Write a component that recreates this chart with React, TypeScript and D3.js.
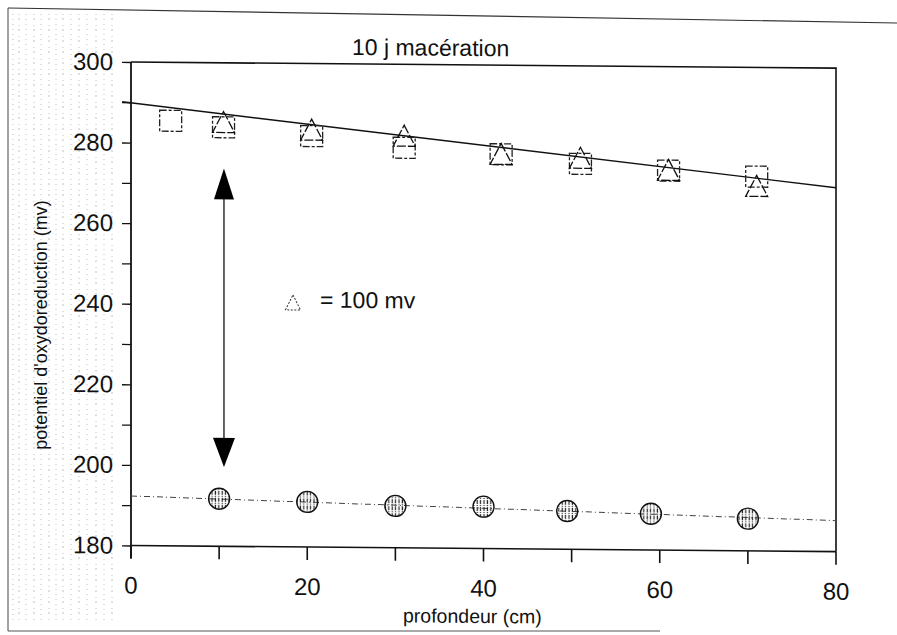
import { useEffect, useRef } from "react";
import * as d3 from "d3";

// depth (cm) / redox potential (mV)
const triangleDepth = [10.5, 20.5, 31, 42, 51, 61, 71];
const triangleEh = [285.3, 283.6, 282.3, 278.0, 277.2, 274.4, 270.6];

const squareDepth = [4.5, 10.5, 20.5, 31, 42, 51, 61, 71];
const squareEh = [285.5, 284.0, 282.0, 279.3, 277.9, 275.7, 274.2, 272.9];

const circleDepth = [10, 20, 30, 40, 49.5, 59, 70];
const circleEh = [191.8, 191.2, 190.4, 190.4, 189.5, 189.0, 188.0];

// fitted lines (end points; the upper one starts just left of the axis)
const upperFitDepth = [-1, 80];
const upperFitEh = [290.1, 270.3];
const lowerFitDepth = [0, 80];
const lowerFitEh = [192.3, 187.7];

// double arrow showing the gap
const arrowDepth = 10.55;
const arrowEh = [273.8, 199.7];

const xTicks = [0, 10, 20, 30, 40, 50, 60, 70, 80];
const xLabels = [0, 20, 40, 60, 80];
const yTicks = [180, 190, 200, 210, 220, 230, 240, 250, 260, 270, 280, 290, 300];
const yLabels = [180, 200, 220, 240, 260, 280, 300];

// scanner streaks on the left margin
const streakX = [13, 19, 26, 34, 41, 49, 56, 63, 71, 79, 87, 96, 104, 112];

const FONT = "'Liberation Sans', Arial, Helvetica, sans-serif";

export default function App() {
  const ref = useRef<SVGSVGElement | null>(null);

  useEffect(() => {
    if (!ref.current) return;
    const svg = d3.select(ref.current);
    svg.selectAll("*").remove();

    const x = d3.scaleLinear().domain([0, 80]).range([131, 836]);
    const y = d3.scaleLinear().domain([180, 300]).range([545.5, 62]);

    const pat = svg
      .append("defs")
      .append("pattern")
      .attr("id", "hatch")
      .attr("width", 3.4)
      .attr("height", 7)
      .attr("patternUnits", "userSpaceOnUse");
    pat
      .append("line")
      .attr("x1", 1.2)
      .attr("x2", 1.2)
      .attr("y1", 0)
      .attr("y2", 7)
      .attr("stroke", "#222")
      .attr("stroke-width", 1.2)
      .attr("stroke-dasharray", "4 1 1 1");

    // page border of the scan
    svg.append("line").attr("x1", 8).attr("y1", 8).attr("x2", 897).attr("y2", 23).attr("stroke", "#333").attr("stroke-width", 1.2);
    svg.append("line").attr("x1", 8).attr("y1", 8).attr("x2", 8).attr("y2", 631).attr("stroke", "#444").attr("stroke-width", 1);
    svg.append("line").attr("x1", 8).attr("y1", 631).attr("x2", 660).attr("y2", 631).attr("stroke", "#555").attr("stroke-width", 1);

    svg
      .append("g")
      .selectAll("line")
      .data(streakX)
      .join("line")
      .attr("x1", (d) => d)
      .attr("x2", (d) => d)
      .attr("y1", 14)
      .attr("y2", 620)
      .attr("stroke", "#777")
      .attr("stroke-width", 1)
      .attr("stroke-dasharray", (d, i) => (i % 2 ? "1 3 2 5" : "1 4"))
      .attr("opacity", 0.45);

    // the scan is slightly skewed
    const g = svg.append("g").attr("transform", "translate(131,0) skewY(0.5) translate(-131,0)");

    // frame: top and right edges
    g.append("path")
      .attr("d", `M${x(0)},${y(300)}H${x(80)}V${y(180)}`)
      .attr("fill", "none")
      .attr("stroke", "#111")
      .attr("stroke-width", 1.6);

    // x axis: line, ticks hanging below, labels every 20
    g.append("line")
      .attr("x1", x(0))
      .attr("x2", x(80))
      .attr("y1", y(180))
      .attr("y2", y(180))
      .attr("stroke", "#111")
      .attr("stroke-width", 1.6);
    g.append("g")
      .selectAll("line")
      .data(xTicks)
      .join("line")
      .attr("x1", (d) => x(d))
      .attr("x2", (d) => x(d))
      .attr("y1", y(180))
      .attr("y2", y(180) + 13)
      .attr("stroke", "#111")
      .attr("stroke-width", 1.6);
    g.append("g")
      .selectAll("text")
      .data(xLabels)
      .join("text")
      .attr("x", (d) => x(d))
      .attr("y", y(180) + 48)
      .attr("text-anchor", "middle")
      .attr("font-family", FONT)
      .attr("font-size", 24)
      .attr("fill", "#111")
      .text((d) => String(d));

    // y axis
    const yAxis = g
      .append("g")
      .attr("transform", `translate(${x(0)},0)`)
      .call(
        d3
          .axisLeft(y)
          .tickValues(yTicks)
          .tickSize(9)
          .tickSizeOuter(0)
          .tickPadding(9)
          .tickFormat((d) => (yLabels.includes(+d) ? String(d) : "")),
      );
    yAxis.select(".domain").remove();
    yAxis.selectAll(".tick line").attr("stroke", "#111").attr("stroke-width", 1.3);
    yAxis.selectAll("text").attr("font-size", 24).attr("font-family", FONT).attr("fill", "#111");
    g.append("line")
      .attr("x1", x(0))
      .attr("x2", x(0))
      .attr("y1", y(300))
      .attr("y2", y(180) + 13)
      .attr("stroke", "#111")
      .attr("stroke-width", 1.8);

    // fitted lines
    const fit = d3.line<[number, number]>();
    g.append("path")
      .attr("d", fit(upperFitDepth.map((d, i) => [x(d), y(upperFitEh[i])])))
      .attr("fill", "none")
      .attr("stroke", "#111")
      .attr("stroke-width", 1.4);
    g.append("path")
      .attr("d", fit(lowerFitDepth.map((d, i) => [x(d), y(lowerFitEh[i])])))
      .attr("fill", "none")
      .attr("stroke", "#444")
      .attr("stroke-width", 1)
      .attr("stroke-dasharray", "6 3 1 3");

    // squares
    g.append("g")
      .selectAll("rect")
      .data(squareDepth)
      .join("rect")
      .attr("x", (d) => x(d) - 11)
      .attr("y", (d, i) => y(squareEh[i]) - 10.5)
      .attr("width", 22)
      .attr("height", 21)
      .attr("fill", "none")
      .attr("stroke", "#222")
      .attr("stroke-width", 1.3)
      .attr("stroke-dasharray", "7 2 3 2");

    // triangles
    const tri = (cx: number, cy: number, w: number, h: number) =>
      `M${cx},${cy - h / 2}L${cx + w / 2},${cy + h / 2}L${cx - w / 2},${cy + h / 2}Z`;
    g.append("g")
      .selectAll("path")
      .data(triangleDepth)
      .join("path")
      .attr("d", (d, i) => tri(x(d), y(triangleEh[i]), 22, 21))
      .attr("fill", "none")
      .attr("stroke", "#111")
      .attr("stroke-width", 1.3)
      .attr("stroke-dasharray", "9 2");

    // circles
    g.append("g")
      .selectAll("circle")
      .data(circleDepth)
      .join("circle")
      .attr("cx", (d) => x(d))
      .attr("cy", (d, i) => y(circleEh[i]))
      .attr("r", 10.5)
      .attr("fill", "url(#hatch)")
      .attr("stroke", "#111")
      .attr("stroke-width", 1.4);

    // double arrow
    const ax = x(arrowDepth);
    const yTop = y(arrowEh[0]);
    const yBot = y(arrowEh[1]);
    g.append("line").attr("x1", ax).attr("x2", ax).attr("y1", yTop + 20).attr("y2", yBot - 20).attr("stroke", "#111").attr("stroke-width", 1.3);
    g.append("path").attr("d", `M${ax},${yTop}L${ax + 10},${yTop + 31}L${ax - 10},${yTop + 31}Z`).attr("fill", "#000");
    g.append("path").attr("d", `M${ax},${yBot}L${ax + 11},${yBot - 29}L${ax - 11},${yBot - 29}Z`).attr("fill", "#000");

    // annotation
    g.append("path")
      .attr("d", tri(293, 301, 15, 15))
      .attr("fill", "none")
      .attr("stroke", "#333")
      .attr("stroke-width", 1)
      .attr("stroke-dasharray", "2 1.5");
    g.append("text").attr("x", 320).attr("y", 306).attr("font-family", FONT).attr("font-size", 23).attr("fill", "#111").text("= 100 mv");

    // titles
    g.append("text").attr("x", 352).attr("y", 53).attr("font-family", FONT).attr("font-size", 23).attr("fill", "#111").text("10 j macération");
    g.append("text")
      .attr("x", 403)
      .attr("y", 620)
      .attr("font-family", FONT)
      .attr("font-size", 19.5)
      .attr("fill", "#111")
      .text("profondeur (cm)");
    svg
      .append("text")
      .attr("transform", "translate(47,325) rotate(-90)")
      .attr("text-anchor", "middle")
      .attr("font-family", FONT)
      .attr("font-size", 18)
      .attr("fill", "#111")
      .text("potentiel d'oxydoreduction (mv)");
  }, []);

  return (
    <svg
      ref={ref}
      width={897}
      height={635}
      viewBox="0 0 897 635"
      style={{ position: "absolute", left: 0, top: 0, background: "#fff" }}
    />
  );
}
